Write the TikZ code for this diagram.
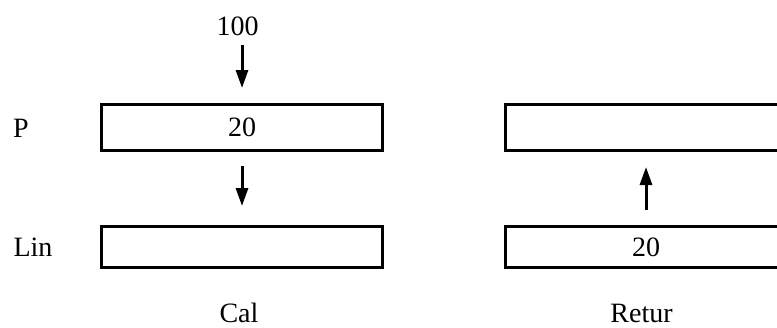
\documentclass[tikz,border=0pt]{standalone}
\usepackage{fontspec}
\setmainfont{Liberation Serif}
\usetikzlibrary{arrows.meta}
\tikzset{
  cell/.style={draw, line width=3pt, minimum width=281pt, inner sep=0pt, outer sep=0pt},
  lbl/.style={inner sep=0pt, outer sep=0pt, anchor=base},
  arr/.style={line width=3pt, -{Triangle[length=18pt, width=12pt]}}
}
\begin{document}
\begin{tikzpicture}[x=1pt, y=-1pt, font=\fontsize{28}{34}\selectfont]
\useasboundingbox (0,0) rectangle (777,327);
\clip (0,0) rectangle (777,327);
% boxes
\node[cell, minimum height=46pt] (P) at (242,127.5) {20};
\node[cell, minimum height=41pt] (Lin) at (242,247) {};
\node[cell, minimum height=46pt] (RP) at (646,127.5) {};
\node[cell, minimum height=41pt] (RLin) at (646,247) {20};
% labels
\node[lbl] (n100) at (237.5,35) {100};
\node[lbl] (lp) at (21,137) {P};
\node[lbl] (llin) at (33,256.5) {Lin};
\node[lbl] (cal) at (239,322.5) {Cal};
\node[lbl] (retur) at (641.5,322.5) {Retur};
% arrows
\draw[arr, shorten <=10pt, shorten >=16.5pt] (P.north |- n100.south) -- (P.north);
\draw[arr, shorten <=15.5pt, shorten >=20.5pt] (P) -- (Lin);
\draw[arr, shorten <=17pt, shorten >=16.5pt] (RLin) -- (RP);
\end{tikzpicture}
\end{document}
